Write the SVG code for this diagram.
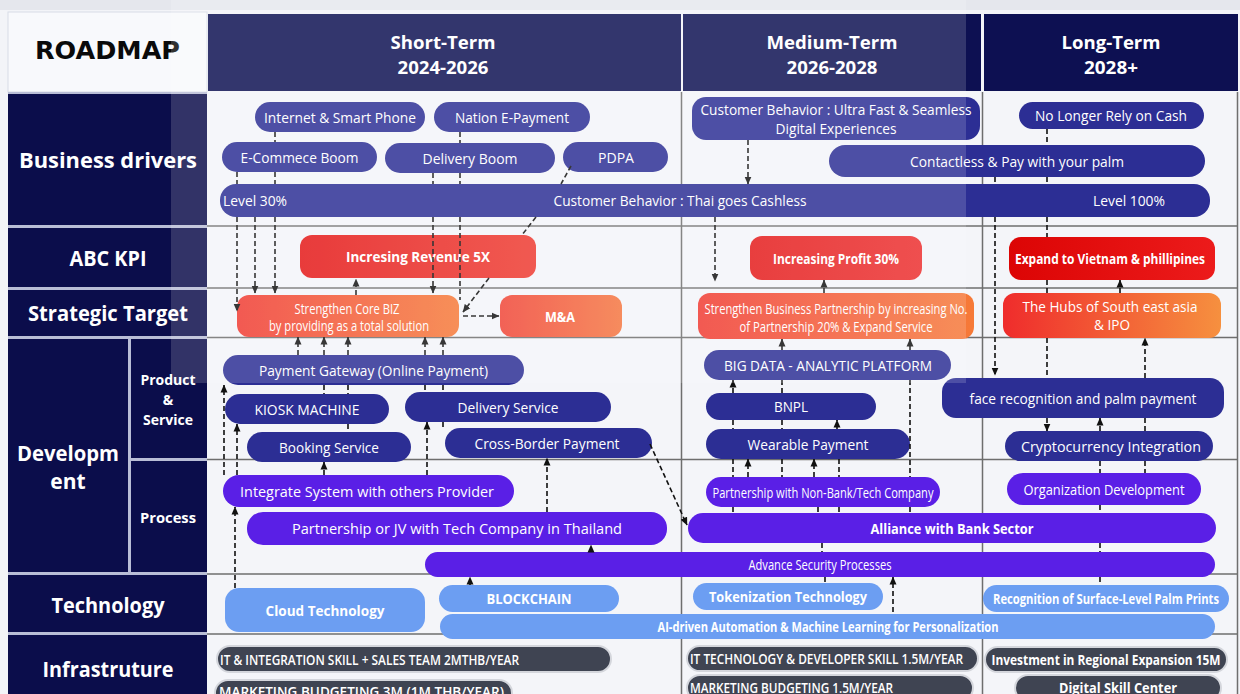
<svg xmlns="http://www.w3.org/2000/svg" width="1240" height="694" viewBox="0 0 1240 694">
<style>
.lbl{font-family:"Open Sans","Liberation Sans",sans-serif;font-weight:700;fill:#fff;text-anchor:middle;dominant-baseline:central}
.t{font-family:"Open Sans","Liberation Sans",sans-serif;font-size:14px;fill:#fff;text-anchor:middle;dominant-baseline:central}
.s{text-anchor:start}
.b{font-weight:700}
.ind{fill:#2c2e94}
.pur{fill:#5a1fe6}
.blu{fill:#6c9ef2}
.inf{fill:#3f4452;stroke:#d4d6dc;stroke-width:2}
.grid{stroke:#6e6e6e;stroke-width:1.5}
.c{fill:none;stroke:#111;stroke-width:1.6;stroke-dasharray:5 3}
.a{marker-end:url(#ah)}
.cell{fill:#0b0d4b}
</style>
<defs>
<marker id="ah" viewBox="0 0 8 8" markerWidth="8" markerHeight="8" refX="7.5" refY="4" orient="auto" markerUnits="userSpaceOnUse">
<path d="M0,0.5 L8,4 L0,7.5 z" fill="#111"/>
</marker>
<linearGradient id="gRev" x1="0" x2="1" y1="0" y2="0"><stop offset="0" stop-color="#e41616"/><stop offset="1" stop-color="#ee3a30"/></linearGradient>
<linearGradient id="gProf" x1="0" x2="1" y1="0" y2="0"><stop offset="0" stop-color="#e41a1a"/><stop offset="1" stop-color="#ec2e2e"/></linearGradient>
<linearGradient id="gExp" x1="0" x2="1" y1="0" y2="0"><stop offset="0" stop-color="#dc0505"/><stop offset="1" stop-color="#ec1b1b"/></linearGradient>
<linearGradient id="gStr" x1="0" x2="1" y1="0" y2="0"><stop offset="0" stop-color="#f03a32"/><stop offset="1" stop-color="#f67a38"/></linearGradient>
<linearGradient id="gMA" x1="0" x2="1" y1="0" y2="0"><stop offset="0" stop-color="#f04436"/><stop offset="1" stop-color="#f57640"/></linearGradient>
<linearGradient id="gHub" x1="0" x2="1" y1="0" y2="0"><stop offset="0" stop-color="#ef2c2c"/><stop offset="1" stop-color="#f6903f"/></linearGradient>
</defs>

<rect x="0" y="0" width="1240" height="694" fill="#f3f4f8"/>
<rect x="0" y="0" width="1240" height="10" fill="#e5e7ed"/>

<g id="frame">
<rect x="207" y="92" width="1031" height="602" fill="#f4f5f9"/>
<line class="grid" x1="207" y1="226" x2="1238" y2="226"/>
<line class="grid" x1="207" y1="288" x2="1238" y2="288"/>
<line class="grid" x1="207" y1="337.5" x2="1238" y2="337.5"/>
<line class="grid" x1="207" y1="459.5" x2="1238" y2="459.5"/>
<line class="grid" x1="207" y1="574" x2="1238" y2="574"/>
<line class="grid" x1="207" y1="634" x2="1238" y2="634"/>
<line class="grid" x1="681.5" y1="92" x2="681.5" y2="694"/>
<line class="grid" x1="982.5" y1="92" x2="982.5" y2="694"/>
<line class="grid" x1="1237.5" y1="92" x2="1237.5" y2="694"/>
</g>

<g id="header">
<rect x="8" y="12" width="199" height="80" fill="#f8f9fc" stroke="#d8dbe6"/>
<text x="35" y="51" font-family="'DejaVu Sans','Liberation Sans',sans-serif" font-weight="700" font-size="24" textLength="145" lengthAdjust="spacingAndGlyphs" dominant-baseline="central" fill="#0a0a0a">ROADMAP</text>
<rect x="208" y="14" width="473" height="77" fill="#0d1052"/>
<rect x="683" y="14" width="298" height="77" fill="#0d1052"/>
<rect x="984" y="14" width="254" height="77" fill="#0d1052"/>
<text class="lbl" x="443" y="41" font-size="18.5" textLength="105" lengthAdjust="spacingAndGlyphs">Short-Term</text>
<text class="lbl" x="443" y="66" font-size="18.5" textLength="91" lengthAdjust="spacingAndGlyphs">2024-2026</text>
<text class="lbl" x="832" y="41" font-size="18.5" textLength="131" lengthAdjust="spacingAndGlyphs">Medium-Term</text>
<text class="lbl" x="832" y="66" font-size="18.5" textLength="91" lengthAdjust="spacingAndGlyphs">2026-2028</text>
<text class="lbl" x="1111" y="41" font-size="18.5" textLength="99" lengthAdjust="spacingAndGlyphs">Long-Term</text>
<text class="lbl" x="1111" y="66" font-size="18.5" textLength="54" lengthAdjust="spacingAndGlyphs">2028+</text>
</g>

<g id="row-labels">
<rect x="8" y="92" width="199" height="602" fill="#b9bdd6"/>
<rect class="cell" x="8" y="94" width="199" height="131"/>
<rect class="cell" x="8" y="228" width="199" height="59"/>
<rect class="cell" x="8" y="290" width="199" height="46"/>
<rect class="cell" x="8" y="339" width="120" height="233"/>
<rect class="cell" x="131" y="339" width="76" height="119"/>
<rect class="cell" x="131" y="461" width="76" height="111"/>
<rect class="cell" x="8" y="575" width="199" height="57"/>
<rect class="cell" x="8" y="635" width="199" height="59"/>
<text class="lbl" x="108" y="160" font-size="21" textLength="178" lengthAdjust="spacingAndGlyphs">Business drivers</text>
<text class="lbl" x="108" y="258" font-size="21" textLength="77" lengthAdjust="spacingAndGlyphs">ABC KPI</text>
<text class="lbl" x="108" y="313" font-size="21" textLength="160" lengthAdjust="spacingAndGlyphs">Strategic Target</text>
<text class="lbl" x="68" y="453" font-size="21" textLength="102" lengthAdjust="spacingAndGlyphs">Developm</text>
<text class="lbl" x="68" y="481" font-size="21">ent</text>
<text class="lbl" x="168" y="379" font-size="14">Product</text>
<text class="lbl" x="168" y="399" font-size="14">&amp;</text>
<text class="lbl" x="168" y="419" font-size="14">Service</text>
<text class="lbl" x="168" y="517" font-size="14" textLength="56" lengthAdjust="spacingAndGlyphs">Process</text>
<text class="lbl" x="108" y="605" font-size="21" textLength="113" lengthAdjust="spacingAndGlyphs">Technology</text>
<text class="lbl" x="108" y="669" font-size="21" textLength="131" lengthAdjust="spacingAndGlyphs">Infrastruture</text>
</g>

<g id="n-internet"><rect class="ind" x="255" y="102" width="170" height="30" rx="15"/><text class="t" x="340" y="117" textLength="152" lengthAdjust="spacingAndGlyphs">Internet &amp; Smart Phone</text></g>
<g id="n-nation"><rect class="ind" x="434" y="102" width="156" height="30" rx="15"/><text class="t" x="512" y="117" textLength="114" lengthAdjust="spacingAndGlyphs">Nation E-Payment</text></g>
<g id="n-ecom"><rect class="ind" x="222" y="142" width="155" height="30" rx="15"/><text class="t" x="299.5" y="157" textLength="118" lengthAdjust="spacingAndGlyphs">E-Commece Boom</text></g>
<g id="n-delivboom"><rect class="ind" x="385" y="143" width="170" height="30" rx="15"/><text class="t" x="470" y="158" textLength="95" lengthAdjust="spacingAndGlyphs">Delivery Boom</text></g>
<g id="n-pdpa"><rect class="ind" x="563" y="142" width="105" height="30" rx="15"/><text class="t" x="616" y="157" textLength="36" lengthAdjust="spacingAndGlyphs">PDPA</text></g>
<g id="n-cashless"><rect class="ind" x="220" y="184" width="990" height="33" rx="16"/>
<text class="t s" x="223" y="200.5" textLength="64" lengthAdjust="spacingAndGlyphs">Level 30%</text>
<text class="t" x="680" y="200.5" textLength="253" lengthAdjust="spacingAndGlyphs">Customer Behavior : Thai goes Cashless</text>
<text class="t" x="1129" y="200.5" textLength="72" lengthAdjust="spacingAndGlyphs">Level 100%</text></g>
<g id="n-ultra"><rect class="ind" x="692" y="97" width="288" height="43" rx="14"/><text class="t" x="836" y="109.5" textLength="271" lengthAdjust="spacingAndGlyphs">Customer Behavior : Ultra Fast &amp; Seamless</text><text class="t" x="836" y="128" textLength="121" lengthAdjust="spacingAndGlyphs">Digital Experiences</text></g>
<g id="n-nocash"><rect class="ind" x="1019" y="102" width="185" height="27" rx="13.5"/><text class="t" x="1111" y="115.5" textLength="152" lengthAdjust="spacingAndGlyphs">No Longer Rely on Cash</text></g>
<g id="n-contactless"><rect class="ind" x="829" y="145" width="376" height="32" rx="16"/><text class="t" x="1017" y="161" textLength="214" lengthAdjust="spacingAndGlyphs">Contactless &amp; Pay with your palm</text></g>

<g id="n-revenue"><rect x="300" y="235" width="236" height="43" rx="12" fill="url(#gRev)"/><text class="t b" x="418" y="256.5" font-size="14" textLength="144" lengthAdjust="spacingAndGlyphs">Incresing Revenue 5X</text></g>
<g id="n-profit"><rect x="750" y="236" width="172" height="44" rx="12" fill="url(#gProf)"/><text class="t b" x="836" y="258" font-size="12" textLength="126" lengthAdjust="spacingAndGlyphs">Increasing Profit 30%</text></g>
<g id="n-expand"><rect x="1009" y="237" width="206" height="43" rx="12" fill="url(#gExp)"/><text class="t b" x="1110" y="258.5" font-size="12" textLength="190" lengthAdjust="spacingAndGlyphs">Expand to Vietnam &amp; phillipines</text></g>

<g id="n-core"><rect x="237" y="295" width="222" height="42" rx="12" fill="url(#gStr)"/><text class="t" x="347" y="308" font-size="10.5" textLength="105" lengthAdjust="spacingAndGlyphs">Strengthen Core BIZ</text><text class="t" x="349" y="325" font-size="10.5" textLength="160" lengthAdjust="spacingAndGlyphs">by providing as a total solution</text></g>
<g id="n-ma"><rect x="500" y="295" width="122" height="42" rx="12" fill="url(#gMA)"/><text class="t b" x="560" y="316" font-size="13" textLength="30" lengthAdjust="spacingAndGlyphs">M&amp;A</text></g>
<g id="n-partner"><rect x="698" y="293" width="276" height="46" rx="12" fill="url(#gStr)"/><text class="t" x="836" y="308" font-size="11" textLength="263" lengthAdjust="spacingAndGlyphs">Strengthen Business Partnership by increasing No.</text><text class="t" x="836" y="326" font-size="11" textLength="193" lengthAdjust="spacingAndGlyphs">of Partnership 20% &amp; Expand Service</text></g>
<g id="n-hubs"><rect x="1003" y="293" width="218" height="45" rx="12" fill="url(#gHub)"/><text class="t" x="1110" y="306" font-size="14.5" textLength="175" lengthAdjust="spacingAndGlyphs">The Hubs of South east asia</text><text class="t" x="1112" y="324" font-size="14.5" textLength="36" lengthAdjust="spacingAndGlyphs">&amp; IPO</text></g>

<g id="n-pg"><rect class="ind" x="223" y="355" width="301" height="30" rx="15"/><text class="t" x="373.5" y="370" textLength="229" lengthAdjust="spacingAndGlyphs">Payment Gateway (Online Payment)</text></g>
<g id="n-kiosk"><rect class="ind" x="225" y="394" width="164" height="30" rx="15"/><text class="t" x="307" y="409" textLength="105" lengthAdjust="spacingAndGlyphs">KIOSK MACHINE</text></g>
<g id="n-delsvc"><rect class="ind" x="405" y="392" width="206" height="30" rx="15"/><text class="t" x="508" y="407" textLength="101" lengthAdjust="spacingAndGlyphs">Delivery Service</text></g>
<g id="n-booking"><rect class="ind" x="247" y="432" width="164" height="30" rx="15"/><text class="t" x="329" y="447" textLength="100" lengthAdjust="spacingAndGlyphs">Booking Service</text></g>
<g id="n-cross"><rect class="ind" x="445" y="428" width="207" height="30" rx="15"/><text class="t" x="547" y="443" textLength="145" lengthAdjust="spacingAndGlyphs">Cross-Border Payment</text></g>
<g id="n-bigdata"><rect class="ind" x="704" y="350" width="247" height="30" rx="15"/><text class="t" x="828" y="365" textLength="208" lengthAdjust="spacingAndGlyphs">BIG DATA - ANALYTIC PLATFORM</text></g>
<g id="n-bnpl"><rect class="ind" x="706" y="393" width="170" height="27" rx="13.5"/><text class="t" x="791" y="406.5" textLength="34" lengthAdjust="spacingAndGlyphs">BNPL</text></g>
<g id="n-wear"><rect class="ind" x="706" y="429" width="204" height="30" rx="15"/><text class="t" x="808" y="444" textLength="121" lengthAdjust="spacingAndGlyphs">Wearable Payment</text></g>
<g id="n-face"><rect class="ind" x="942" y="378" width="282" height="40" rx="14"/><text class="t" x="1083" y="398" textLength="227" lengthAdjust="spacingAndGlyphs">face recognition and palm payment</text></g>
<g id="n-crypto"><rect class="ind" x="1005" y="431" width="208" height="30" rx="15"/><text class="t" x="1111" y="446" textLength="180" lengthAdjust="spacingAndGlyphs">Cryptocurrency Integration</text></g>

<g id="n-integrate"><rect class="pur" x="223" y="475" width="291" height="32" rx="16"/><text class="t" x="367" y="491" textLength="254" lengthAdjust="spacingAndGlyphs">Integrate System with others Provider</text></g>
<g id="n-jv"><rect class="pur" x="247" y="512" width="420" height="33" rx="16"/><text class="t" x="457" y="528.5" textLength="330" lengthAdjust="spacingAndGlyphs">Partnership or JV with Tech Company in Thailand</text></g>
<g id="n-nonbank"><rect class="pur" x="706" y="477" width="234" height="30" rx="15"/><text class="t" x="823" y="492" font-size="12" textLength="221" lengthAdjust="spacingAndGlyphs">Partnership with Non-Bank/Tech Company</text></g>
<g id="n-org"><rect class="pur" x="1007" y="473" width="194" height="32" rx="16"/><text class="t" x="1104" y="489" textLength="161" lengthAdjust="spacingAndGlyphs">Organization Development</text></g>
<g id="n-alliance"><rect class="pur" x="688" y="513" width="528" height="30" rx="15"/><text class="t b" x="952" y="528" font-size="14" textLength="163" lengthAdjust="spacingAndGlyphs">Alliance with Bank Sector</text></g>
<g id="n-advance"><rect class="pur" x="425" y="552" width="790" height="25" rx="12.5"/><text class="t" x="820" y="564.5" font-size="12" textLength="143" lengthAdjust="spacingAndGlyphs">Advance Security Processes</text></g>

<g id="n-cloud"><rect class="blu" x="225" y="588" width="200" height="44" rx="14"/><text class="t b" x="325" y="610" font-size="14" textLength="119" lengthAdjust="spacingAndGlyphs">Cloud Technology</text></g>
<g id="n-blockchain"><rect class="blu" x="439" y="585" width="180" height="27" rx="13.5"/><text class="t b" x="529" y="598.5" font-size="13" textLength="85" lengthAdjust="spacingAndGlyphs">BLOCKCHAIN</text></g>
<g id="n-token"><rect class="blu" x="693" y="583" width="190" height="27" rx="13.5"/><text class="t b" x="788" y="596.5" font-size="13.5" textLength="158" lengthAdjust="spacingAndGlyphs">Tokenization Technology</text></g>
<g id="n-recog"><rect class="blu" x="983" y="585" width="246" height="27" rx="13.5"/><text class="t b" x="1106" y="598.5" font-size="12" textLength="226" lengthAdjust="spacingAndGlyphs">Recognition of Surface-Level Palm Prints</text></g>
<g id="n-ai"><rect class="blu" x="440" y="614" width="775" height="25" rx="12.5"/><text class="t b" x="828" y="626.5" font-size="12" textLength="341" lengthAdjust="spacingAndGlyphs">AI-driven Automation &amp; Machine Learning for Personalization</text></g>

<g id="n-it1"><rect class="inf" x="217" y="646" width="394" height="26" rx="13"/><text class="t s" x="220" y="659" font-size="11.5" font-weight="600" fill="#eee" textLength="299" lengthAdjust="spacingAndGlyphs">IT &amp; INTEGRATION SKILL + SALES TEAM 2MTHB/YEAR</text></g>
<g id="n-mkt1"><rect class="inf" x="215" y="680" width="297" height="26" rx="13"/><text class="t s" x="219" y="691" font-size="11.5" font-weight="600" fill="#eee" textLength="285" lengthAdjust="spacingAndGlyphs">MARKETING BUDGETING 3M (1M THB/YEAR)</text></g>
<g id="n-it2"><rect class="inf" x="687" y="646" width="291" height="25" rx="12.5"/><text class="t s" x="690" y="658.5" font-size="11.5" font-weight="600" fill="#eee" textLength="273" lengthAdjust="spacingAndGlyphs">IT TECHNOLOGY &amp; DEVELOPER SKILL 1.5M/YEAR</text></g>
<g id="n-mkt2"><rect class="inf" x="687" y="675" width="286" height="26" rx="13"/><text class="t s" x="690" y="687.5" font-size="11.5" font-weight="600" fill="#eee" textLength="203" lengthAdjust="spacingAndGlyphs">MARKETING BUDGETING 1.5M/YEAR</text></g>
<g id="n-invest"><rect class="inf" x="985" y="647" width="242" height="25" rx="12.5"/><text class="t b" x="1106" y="659.5" font-size="12" textLength="229" lengthAdjust="spacingAndGlyphs">Investment in Regional Expansion 15M</text></g>
<g id="n-digital"><rect class="inf" x="1015" y="675" width="206" height="26" rx="13"/><text class="t b" x="1118" y="687.5" font-size="14" textLength="118" lengthAdjust="spacingAndGlyphs">Digital Skill Center</text></g>

<g id="connectors">
<path class="c" d="M275,132V142M460,132V143M237,172V184M275,172V184M433,173V184M460,173V184"/>
<path class="c" d="M571,166L561,184M536,217L522,235"/>
<path class="c a" d="M489,278L463,312"/>
<path class="c a" d="M237,217V311"/>
<path class="c a" d="M255,217V293"/>
<path class="c a" d="M275,217V293"/>
<path class="c a" d="M433,217V293"/>
<path class="c" d="M460,217V300"/>
<path class="c a" d="M356,295V279"/>
<path class="c a" d="M463,316H499"/>
<path class="c a" d="M748,140V184"/>
<path class="c a" d="M715,217V281"/>
<path class="c a" d="M824,293V280"/>
<path class="c" d="M1047,129V145M1047,177V184M1047,217V237M1047,280V293M1047,338V378"/>
<path class="c" d="M995,177V184"/>
<path class="c a" d="M995,217V375"/>
<path class="c a" d="M1120,293V280"/>
<path class="c a" d="M1145,378V338"/>
<path class="c a" d="M1047,418V431"/>
<path class="c a" d="M1100,431V418"/>
<path class="c" d="M1145,418V431M1100,461V473M1100,505V513M1100,543V552M1100,577V585M1145,461V473"/>
<path class="c a" d="M298,355V337"/>
<path class="c a" d="M324,355V337"/>
<path class="c a" d="M348,355V337"/>
<path class="c a" d="M425,355V337"/>
<path class="c a" d="M443,355V337"/>
<path class="c" d="M324,385V394M348,385V394M425,385V392M443,385V392M348,424V432M443,422V428"/>
<path class="c a" d="M224,475V385"/>
<path class="c a" d="M237,475V424"/>
<path class="c a" d="M324,475V462"/>
<path class="c a" d="M427,475V422"/>
<path class="c a" d="M547,512V458"/>
<path class="c a" d="M591,552V545"/>
<path class="c a" d="M235,588V507"/>
<path class="c a" d="M470,585V577"/>
<path class="c a" d="M650,444L687,525"/>
<path class="c a" d="M782,350V339"/>
<path class="c a" d="M910,350V339"/>
<path class="c a" d="M733,393V380"/>
<path class="c" d="M782,380V393M910,380V477M733,420V429M782,420V429"/>
<path class="c a" d="M837,429V420"/>
<path class="c" d="M733,459V477M782,459V477M839,459V477"/>
<path class="c a" d="M748,477V459"/>
<path class="c a" d="M814,477V459"/>
<path class="c" d="M733,507V513M818,507V513M839,507V513M910,507V513M822,543V552M825,577V583"/>
<path class="c a" d="M893,612V577"/>
</g>

<rect id="overlay" x="171" y="0" width="795" height="383" fill="#ffffff" opacity="0.16"/>
</svg>
